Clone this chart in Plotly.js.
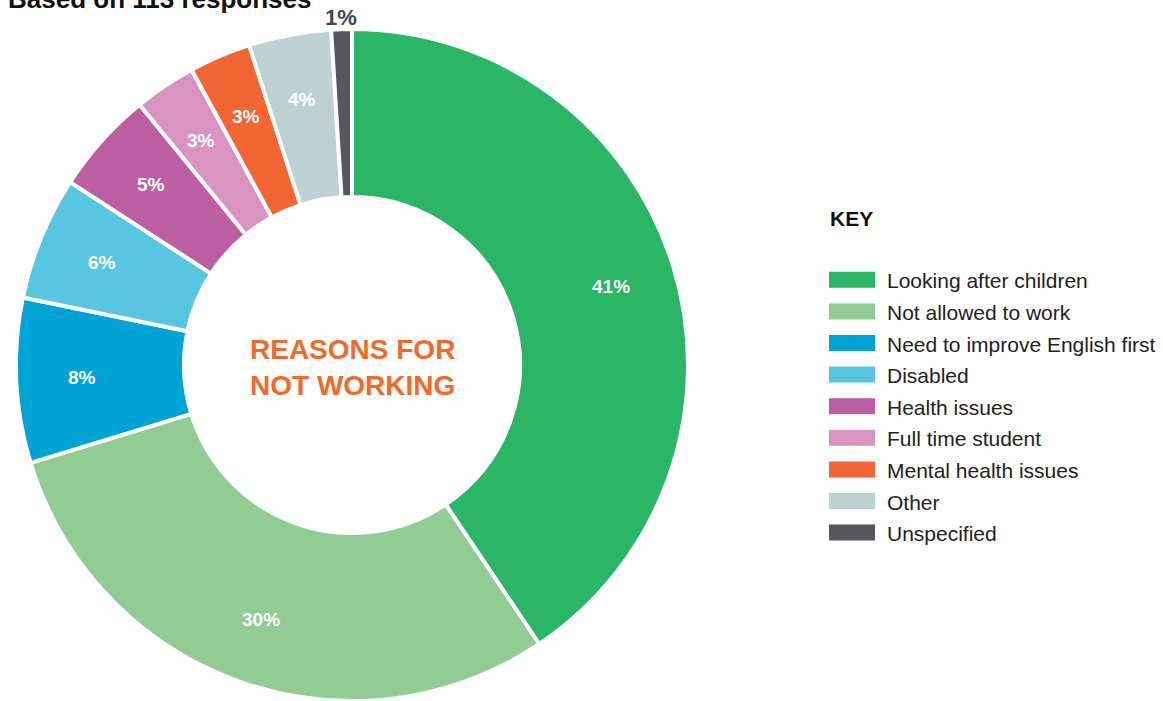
<!DOCTYPE html>
<html><head><meta charset="utf-8">
<script src="https://cdn.plot.ly/plotly-3.0.1.min.js"></script>
<style>body{margin:0;background:#fff}#chart{width:1163px;height:701px}</style>
</head><body><div id="chart"></div>
<script>
const categories = ["Looking after children","Not allowed to work","Need to improve English first","Disabled","Health issues","Full time student","Mental health issues","Other","Unspecified"];
const percents = [41,30,8,6,5,3,3,4,1];
const colors = ["#2bb566","#90cc93","#00a4d4","#58c6e0","#bc5ea2","#d893c1","#f26534","#bdd1d0","#53585c"];
const labelOutside = [false,false,false,false,false,false,false,false,true];
const subtitle = "Based on 113 responses";
const centreLabel = "REASONS FOR<br>NOT WORKING";
const keyTitle = "KEY";

const FONT = "Liberation Sans, Arial, sans-serif";
const W = 1163, H = 701;
const dom = {x: [16/W, 688/W], y: [0/H, 672/H]};

// slice labels placed at the angular middle of each slice (derived from the values)
const total = percents.reduce((a, b) => a + b, 0);
const cxPx = (dom.x[0] + dom.x[1]) / 2 * W, cyPx = (dom.y[0] + dom.y[1]) / 2 * H;
const R = Math.min((dom.x[1] - dom.x[0]) * W, (dom.y[1] - dom.y[0]) * H) / 2;
let cum = 0;
const sliceLabels = percents.map((v, i) => {
  const mid = (cum + v / 2) / total * 2 * Math.PI; cum += v;
  const r = labelOutside[i] ? R * 1.035 : R * 0.805;
  return {
    text: "<b>" + v + "%</b>", xref: "paper", yref: "paper",
    x: (cxPx + r * Math.sin(mid)) / W, y: (cyPx + r * Math.cos(mid)) / H,
    xanchor: "center", yanchor: "middle", showarrow: false,
    font: labelOutside[i] ? {family: FONT, size: 22, color: "#3b4857"} : {family: FONT, size: 19, color: "#ffffff"}
  };
});

const trace = {
  type: "pie",
  labels: categories.map(c => '<span style="font-size:21px">' + c + '</span>'),
  values: percents,
  sort: false,
  direction: "clockwise",
  rotation: 0,
  hole: 0.5,
  domain: dom,
  marker: {colors: colors, line: {color: "#ffffff", width: 4}},
  textinfo: "none",
  hoverinfo: "label+percent"
};
const layout = {
  width: W, height: H,
  margin: {l: 0, r: 0, t: 0, b: 0},
  paper_bgcolor: "#ffffff",
  font: {family: FONT, color: "#222222"},
  showlegend: true,
  legend: {x: 817/W, y: 1 - 259/H, xanchor: "left", yanchor: "top",
           font: {family: FONT, size: 22, color: "#222222"}, itemwidth: 60, itemclick: false},
  annotations: [
    {text: "<b>" + subtitle + "</b>", xref: "paper", yref: "paper", x: 0, y: 1, xanchor: "left", yanchor: "top",
     xshift: 6, yshift: 18, showarrow: false, font: {family: FONT, size: 26, color: "#111111"}},
    {text: "<b>" + centreLabel + "</b>", xref: "paper", yref: "paper", x: 352/W, y: 1 - 367/H,
     xanchor: "center", yanchor: "middle", showarrow: false,
     font: {family: FONT, size: 28, color: "#f26a2b"}},
    {text: "<b>" + keyTitle + "</b>", xref: "paper", yref: "paper", x: 828/W, y: 1 - 218/H,
     xanchor: "left", yanchor: "middle", showarrow: false, font: {family: FONT, size: 21, color: "#111111"}}
  ].concat(sliceLabels)
};
Plotly.newPlot("chart", [trace], layout, {displayModeBar: false, staticPlot: true}).then(function(gd){
  gd.querySelectorAll(".legend .legendpoints path").forEach(function(p){
    p.setAttribute("d", "M23,8H-23V-8H23Z");
    p.style.strokeWidth = "0px";
  });
});
</script></body></html>
